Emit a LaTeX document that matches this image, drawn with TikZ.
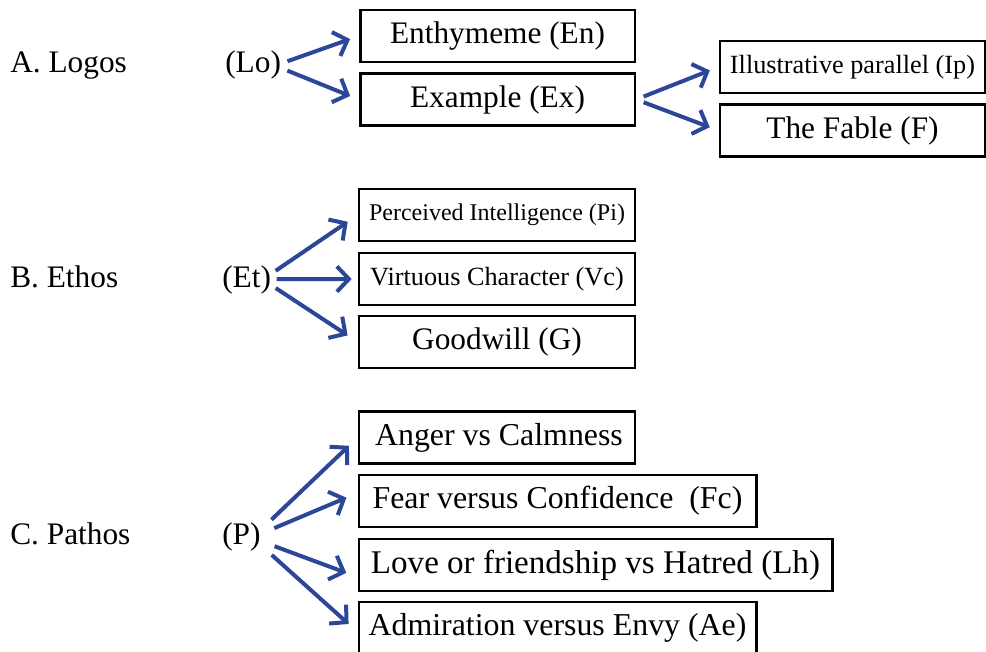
\documentclass[tikz,border=0pt]{standalone}
\usepackage{fontspec}
\setmainfont{Liberation Serif}
\usetikzlibrary{arrows.meta}
\definecolor{arrblue}{RGB}{44,70,152}
\tikzset{
 box/.style={draw, line width=2pt, inner sep=0pt, minimum height=39pt, font=\fontsize{23.5}{28}\selectfont},
 pbox/.style={box, font=\fontsize{23.9}{29}\selectfont},
 lbl/.style={inner sep=0pt, anchor=base west, font=\fontsize{23.5}{28}\selectfont},
 arr/.style={line width=3pt, arrblue, -{Straight Barb[length=9pt,width=19pt]}, shorten >=7pt, shorten <=5pt}
}

\begin{document}
\begin{tikzpicture}[x=0.75pt, y=-0.75pt]
 \useasboundingbox (0,0) rectangle (986,652); %全体の枠
 % A. Logos
 \node[lbl] (logos) at (10,73) {A. Logos}; %ロゴス
 \node[lbl] (lo) at (225,73) {(Lo)};
 \node[box, minimum width=206pt] (en) at (497.5,36) {Enthymeme (En)};
 \node[box, minimum width=206pt] (ex) at (497.5,99.5) {Example (Ex)};
 \node[box, minimum width=199pt, font=\fontsize{19.7}{24}\selectfont] (ip) at (852.5,67) {Illustrative parallel (Ip)};
 \node[box, minimum width=199pt] (fable) at (852.5,130.5) {The Fable (F)};
 \draw[arr] ([yshift=1.5pt]lo.east)--(en.west);
 \draw[arr] ([yshift=-2pt]lo.east)--(ex.west);
 \draw[arr, shorten <=6pt] (ex.east)--(ip.west);
 \draw[arr, shorten <=6pt] (ex.east)--(fable.west);
 % B. Ethos
 \node[lbl] (ethos) at (10,288) {B. Ethos}; %エトス
 \node[lbl] (et) at (222,288) {(Et)};
 \node[box, minimum width=207pt, font=\fontsize{18}{22}\selectfont] (pi) at (497,215) {Perceived Intelligence (Pi)};
 \node[box, minimum width=207pt, font=\fontsize{19.7}{24}\selectfont] (vc) at (497,279) {Virtuous Character (Vc)};
 \node[box, minimum width=207pt] (gw) at (497,342) {Goodwill (G)};
 \draw[arr, shorten <=4pt, shorten >=9pt] ([yshift=5pt]et.east)--(pi.west);
 \draw[arr, shorten <=4pt, shorten >=4.5pt] ([yshift=1pt]et.east)--(vc.west);
 \draw[arr, shorten <=4pt, shorten >=9pt] ([yshift=-3.5pt]et.east)--(gw.west);
 % C. Pathos
 \node[lbl] (pathos) at (10,544) {C. Pathos}; %パトス
 \node[lbl] (p) at (222,544) {(P)};
 \node[pbox, minimum width=207pt] (ac) at (497,437.5) {\hspace{3pt}Anger vs Calmness};
 \node[pbox, minimum width=298pt] (fc) at (557.5,501) {Fear versus Confidence~~(Fc)};
 \node[pbox, minimum width=355pt, font=\fontsize{24.8}{29}\selectfont] (lh) at (595.5,565) {Love or friendship vs Hatred (Lh)};
 \node[pbox, minimum width=298pt] (ae) at (557.5,628) {Admiration versus Envy (Ae)};
 \foreach \t/\s/\e in {ac/5/0, fc/2/6, lh/-3.5/-9, ae/-6.5/-3}
  \draw[arr, shorten <=11pt, shorten >=9pt] ([yshift=\s pt]p.east)--([yshift=\e pt]\t.west);
\end{tikzpicture}
\end{document}
